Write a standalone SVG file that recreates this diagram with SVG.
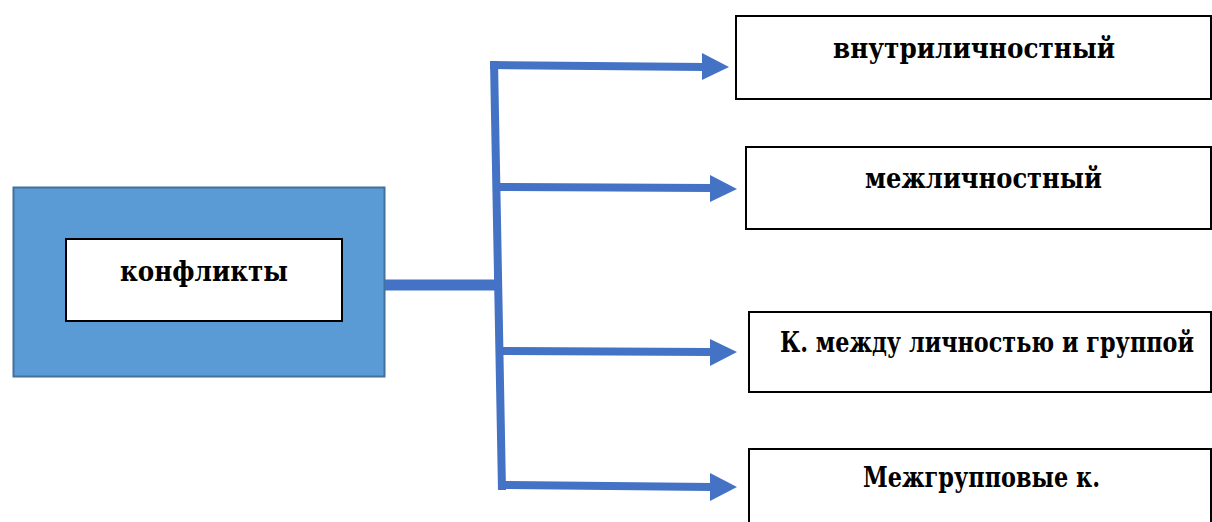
<svg xmlns="http://www.w3.org/2000/svg" width="1212" height="522" viewBox="0 0 1212 522">
<style>
.box{fill:#ffffff;stroke:#000000;stroke-width:2}
.lbl{font-family:'DejaVu Serif',serif;font-weight:700;font-size:27px;fill:#000000;text-anchor:middle}
.ln{stroke:#4472C4;fill:none}
.head{fill:#4472C4}
</style>
<rect width="1212" height="522" fill="#ffffff"/>
<g id="node-konflikty">
<rect x="13.5" y="187.5" width="371" height="189" fill="#5B9BD5" stroke="#41719C" stroke-width="2"/>
<rect class="box" x="66" y="239" width="276" height="82"/>
<text class="lbl" x="204" y="281" textLength="168" lengthAdjust="spacingAndGlyphs">конфликты</text>
</g>
<g id="node-vnutri">
<rect class="box" x="736" y="16" width="475" height="83"/>
<text class="lbl" x="974" y="58" textLength="282" lengthAdjust="spacingAndGlyphs">внутриличностный</text>
</g>
<g id="node-mezhlich">
<rect class="box" x="746" y="147" width="465" height="82"/>
<text class="lbl" x="983.5" y="188" textLength="237" lengthAdjust="spacingAndGlyphs">межличностный</text>
</g>
<g id="node-lichgrup">
<rect class="box" x="749" y="312" width="462" height="80"/>
<text class="lbl" x="987" y="352" textLength="414" lengthAdjust="spacingAndGlyphs">К. между личностью и группой</text>
</g>
<g id="node-mezhgrup">
<rect class="box" x="749" y="449" width="462" height="80"/>
<text class="lbl" x="981.5" y="487" textLength="237" lengthAdjust="spacingAndGlyphs">Межгрупповые к.</text>
</g>
<g id="connectors">
<line class="ln" x1="385" y1="285" x2="497" y2="285" stroke-width="11"/>
<line class="ln" x1="494" y1="61" x2="502" y2="490" stroke-width="8"/>
<line class="ln" x1="490" y1="65" x2="705" y2="67" stroke-width="8"/>
<polygon class="head" points="702,53 729,67 702,80"/>
<line class="ln" x1="500" y1="187" x2="712" y2="188" stroke-width="8"/>
<polygon class="head" points="710,175 737,189 710,202"/>
<line class="ln" x1="501" y1="351" x2="712" y2="352" stroke-width="8"/>
<polygon class="head" points="710,339 737,352 710,366"/>
<line class="ln" x1="498" y1="485" x2="712" y2="487" stroke-width="8"/>
<polygon class="head" points="710,473 737,487 710,501"/>
</g>
</svg>
